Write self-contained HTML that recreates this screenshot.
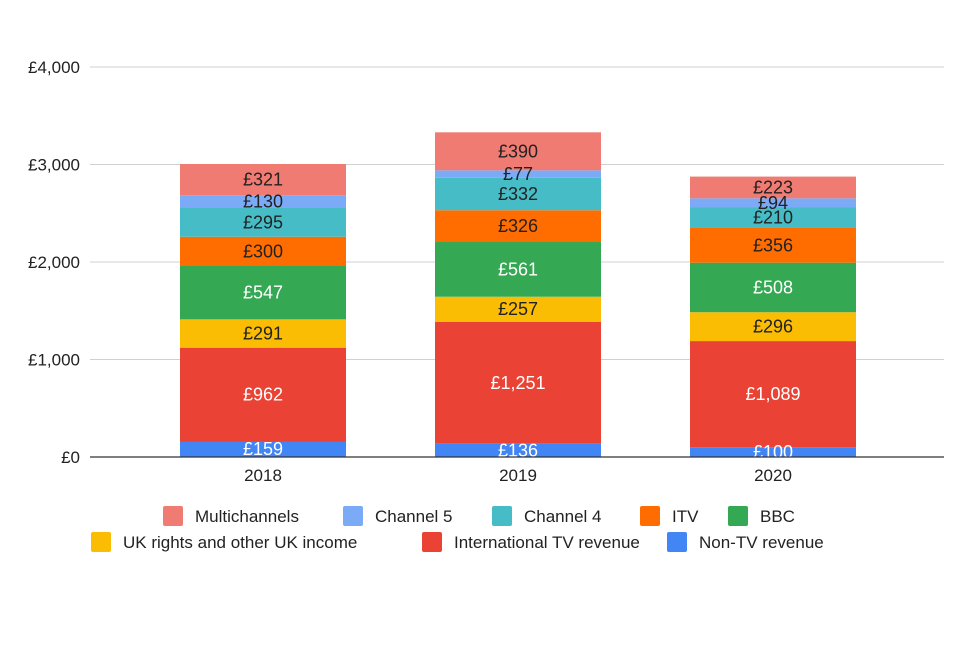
<!DOCTYPE html>
<html><head><meta charset="utf-8"><style>
body{margin:0;background:#fff;font-family:"Liberation Sans",Arial,sans-serif}
svg text{font-family:"Liberation Sans",Arial,sans-serif}
</style></head><body>
<svg id="chart" width="960" height="640">
<g id="grid"></g><g id="bars"></g><g id="labels"></g><g id="axes"></g><g id="legend"></g>
</svg>
<script>
const years=["2018","2019","2020"];
const seriesNames=["Non-TV revenue","International TV revenue","UK rights and other UK income","BBC","ITV","Channel 4","Channel 5","Multichannels"];
const nonTV=[159,136,100];
const international=[962,1251,1089];
const ukRights=[291,257,296];
const bbc=[547,561,508];
const itv=[300,326,356];
const channel4=[295,332,210];
const channel5=[130,77,94];
const multichannels=[321,390,223];
const yTicks=[0,1000,2000,3000,4000];
const yTickLabels=["£0","£1,000","£2,000","£3,000","£4,000"];
const series=[nonTV,international,ukRights,bbc,itv,channel4,channel5,multichannels];
const colors=["#4285f4","#ea4335","#fbbc04","#34a853","#ff6d01","#46bdc6","#7baaf7","#f07b72"];
const textCol=["#fff","#fff","#222","#fff","#222","#222","#222","#222"];
const NS="http://www.w3.org/2000/svg";
const y0=457,yTop=67,yMax=4000,x0=90,x1=944;
const yS=v=>y0-(v/yMax)*(y0-yTop);
const bandStart=135.5, band=255, bw=166;
const xC=i=>bandStart+band*(i+0.5);
function mk(tag,attrs,parent,txt){const e=document.createElementNS(NS,tag);for(const k in attrs)e.setAttribute(k,attrs[k]);if(txt!==undefined)e.textContent=txt;parent.appendChild(e);return e;}
const grid=document.getElementById('grid'),axes=document.getElementById('axes'),bars=document.getElementById('bars'),labels=document.getElementById('labels'),leg=document.getElementById('legend');
yTicks.forEach((t,i)=>{
 if(t>0){const l=mk('line',{x1:x0,x2:x1,y1:yS(t),y2:yS(t),stroke:'#d0d0d0','stroke-width':1},grid);
 
 }
 const tx=mk('text',{x:80,y:yS(t)+6,'text-anchor':'end','font-size':17,fill:'#222'},axes,yTickLabels[i]);
 
 
});
const ax=mk('line',{x1:x0,x2:x1,y1:y0,y2:y0,stroke:'#333','stroke-width':1.3},axes);


years.forEach((yr,i)=>{
 const tx=mk('text',{x:xC(i),y:481,'text-anchor':'middle','font-size':17,fill:'#222'},axes,yr);
 
 
 let cum=0;
 series.forEach((s,k)=>{
  const v=s[i];const ya=yS(cum+v),yb=yS(cum);
  const r=mk('rect',{x:xC(i)-bw/2,y:ya,width:bw,height:yb-ya,fill:colors[k]},bars);
  
  
  const lb=mk('text',{x:xC(i),y:(ya+yb)/2+6,'text-anchor':'middle','font-size':18,fill:textCol[k]},labels,'£'+v.toLocaleString('en-US'));
  
  
  cum+=v;
 });
});
const legItems=[[7,163,516],[6,343,516],[5,492,516],[4,640,516],[3,728,516],[2,91,542],[1,422,542],[0,667,542]];
legItems.forEach(([k,x,y])=>{
 const g=mk('g',{},leg);
 
 
 mk('rect',{x:x,y:y-10,width:20,height:20,rx:2,fill:colors[k]},g);
 mk('text',{x:x+32,y:y+6,'font-size':17,fill:'#222'},g,seriesNames[k]);
});
</script>
</body></html>
